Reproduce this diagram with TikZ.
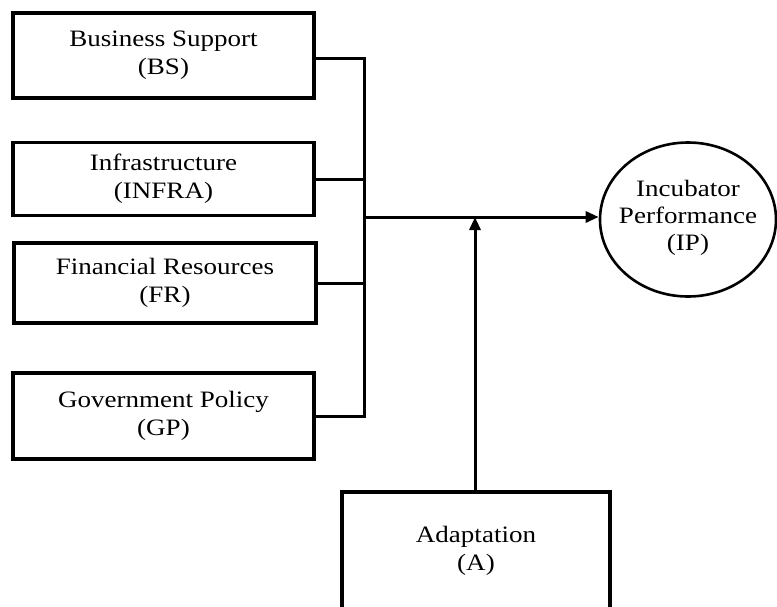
\documentclass[tikz,border=0pt]{standalone}
\usepackage{fontspec}
\setmainfont{Liberation Serif}[FakeStretch=1.15]
\usetikzlibrary{arrows.meta,shapes.geometric}
\begin{document}
\begin{tikzpicture}[x=1pt,y=-1pt,
  conn/.style={line width=3pt},
  arr/.style={line width=3pt,-{Triangle[length=13pt,width=11pt]}},
  factor/.style={draw,line width=3.2pt,rectangle,inner sep=0pt,align=center,
    font=\fontsize{23.5}{28}\selectfont},
  outcome/.style={draw,line width=2.6pt,ellipse,inner sep=0pt,
    minimum width=176pt,minimum height=154pt},
  outtext/.style={align=center,font=\fontsize{23.5}{27}\selectfont}]
\clip (0,0) rectangle (777,606);
\fill[white] (0,0) rectangle (777,606);
\node[factor,minimum width=301pt,minimum height=85pt] (bs) at (163.5,55.5) {Business Support\\(BS)};
\node[factor,minimum width=301pt,minimum height=73pt] (infra) at (163.5,179) {Infrastructure\\(INFRA)};
\node[factor,minimum width=302pt,minimum height=80pt] (fr) at (165,283) {Financial Resources\\(FR)};
\node[factor,minimum width=301pt,minimum height=86pt] (gp) at (163.5,416) {Government Policy\\(GP)};
\node[outcome,label={[outtext,yshift=2pt]center:Incubator\\Performance\\(IP)}] (ip) at (688,219.5) {};
\node[factor,minimum width=268pt,minimum height=118pt] (ad) at (476,551) {Adaptation\\(A)};
\coordinate (hub) at (364,217);
\draw[conn] ([yshift=-3pt]bs.east) -| (hub);
\draw[conn] (gp.east) -| (hub);
\draw[conn] (infra.east) -- (infra.east -| hub);
\draw[conn] (fr.east) -- (fr.east -| hub);
\draw[arr] (hub) -- (hub -| ip.west);
\draw[arr] ([xshift=-1pt]ad.north) -- ([xshift=-1pt]ad.north |- hub);
\end{tikzpicture}
\end{document}
